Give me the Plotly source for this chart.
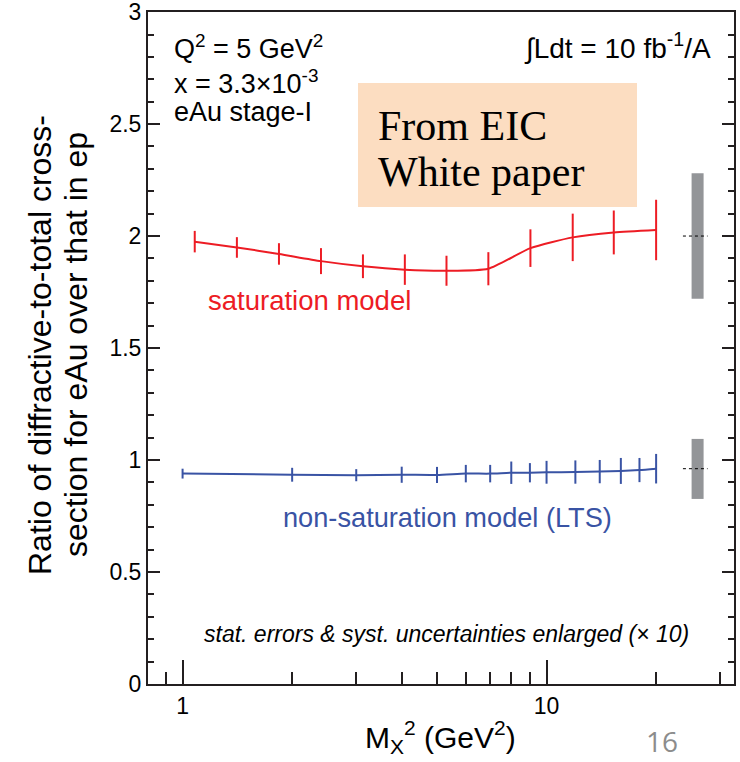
import plotly.graph_objects as go

# ---- data ----
sat_x = [1.08, 1.41, 1.84, 2.4, 3.13, 4.08, 5.31, 6.92, 9.03, 11.8, 15.3, 20.0]
sat_y = [1.975, 1.949, 1.920, 1.888, 1.865, 1.850, 1.845, 1.854, 1.946, 1.994, 2.016, 2.027]
sat_err = [0.048, 0.046, 0.048, 0.058, 0.053, 0.068, 0.067, 0.074, 0.084, 0.106, 0.098, 0.135]

lts_x = [1, 2, 3, 4, 5, 6, 7, 8, 9, 10, 12, 14, 16, 18, 20]
lts_y = [0.939, 0.934, 0.932, 0.934, 0.933, 0.939, 0.939, 0.943, 0.943, 0.945, 0.946, 0.948, 0.951, 0.955, 0.961]
lts_err = [0.022, 0.031, 0.027, 0.036, 0.036, 0.039, 0.039, 0.050, 0.043, 0.051, 0.052, 0.052, 0.058, 0.054, 0.066]

# systematic uncertainty bands (x position, low, high, central)
syst_x = 26.0
sat_syst = [1.72, 2.28, 2.0]
lts_syst = [0.826, 1.094, 0.961]
dot_x = [23.7, 27.7]

x_major = [1, 10]
x_major_text = ["1", "10"]
x_minor = [0.9, 2, 3, 4, 5, 6, 7, 8, 9, 20, 30]
y_major = [0, 0.5, 1, 1.5, 2, 2.5, 3]
y_major_text = ["0", "0.5", "1", "1.5", "2", "2.5", "3"]

RED = "#ED1C24"
BLUE = "#3953A4"
GRAY = "#939598"
AXC = "#231f20"
FONT = "Liberation Sans, Arial, sans-serif"
SERIF = "Liberation Serif, Times New Roman, serif"

W, H = 740, 762
ML, MR, MT, MB = 148, 6, 12, 78
PW, PH = W - ML - MR, H - MT - MB


def px(x):
    return (x - ML) / PW


def py(y):
    return (H - MB - y) / PH


fig = go.Figure()

# systematic bars
fig.add_trace(go.Scatter(x=[syst_x, syst_x], y=sat_syst[:2], mode="lines",
                         line=dict(color=GRAY, width=12), hoverinfo="skip", showlegend=False))
fig.add_trace(go.Scatter(x=[syst_x, syst_x], y=lts_syst[:2], mode="lines",
                         line=dict(color=GRAY, width=12), hoverinfo="skip", showlegend=False))
fig.add_trace(go.Scatter(x=dot_x, y=[sat_syst[2]] * 2, mode="lines",
                         line=dict(color="black", width=1, dash="dot"), showlegend=False))
fig.add_trace(go.Scatter(x=dot_x, y=[lts_syst[2]] * 2, mode="lines",
                         line=dict(color="black", width=1, dash="dot"), showlegend=False))

fig.add_trace(go.Scatter(
    x=sat_x, y=sat_y, mode="lines",
    line=dict(color=RED, width=2, shape="spline", smoothing=0.6),
    error_y=dict(type="data", array=sat_err, color=RED, thickness=2, width=0),
    showlegend=False))
fig.add_trace(go.Scatter(
    x=lts_x, y=lts_y, mode="lines",
    line=dict(color=BLUE, width=2, shape="spline", smoothing=0.6),
    error_y=dict(type="data", array=lts_err, color=BLUE, thickness=2, width=0),
    showlegend=False))

# invisible trace to carry the right-hand (mirrored) y axis ticks
fig.add_trace(go.Scatter(x=[1], y=[1], yaxis="y2", mode="markers",
                         marker=dict(opacity=0), hoverinfo="skip", showlegend=False))

# "From EIC White paper" box
fig.add_shape(type="rect", xref="paper", yref="paper",
              x0=px(358), x1=px(637), y0=py(207), y1=py(83),
              fillcolor="#FCDDC1", line=dict(width=0), layer="above")

ann = []


def add(text, x, y, xanchor="left", size=24, color="black", family=FONT, angle=0):
    ann.append(dict(text=text, x=px(x), y=py(y), xref="paper", yref="paper",
                    xanchor=xanchor, yanchor="middle", showarrow=False,
                    textangle=angle, font=dict(size=size, color=color, family=family)))


add("Q<sup>2</sup> = 5 GeV<sup>2</sup>", 172, 47, size=27)
add("x = 3.3×10<sup>-3</sup>", 172, 82, size=27)
add("eAu stage-I", 172, 112, size=27)
add("∫Ldt = 10 fb<sup>-1</sup>/A", 713, 46, xanchor="right", size=28)
add("From EIC", 376, 126, size=42, family=SERIF)
add("White paper", 376, 172, size=42, family=SERIF)
add("saturation model", 206, 300, size=27.5, color=RED)
add("non-saturation model (LTS)", 281, 517, size=27.2, color=BLUE)
add("<i>stat. errors &amp; syst. uncertainties enlarged (× 10)</i>", 446, 634,
    xanchor="center", size=23)
add("16", 662, 741, xanchor="center", size=28, color="#8C8C8C", family="Open Sans, Noto Sans, sans-serif")
add("M<sub>X</sub><sup>2</sup> (GeV<sup>2</sup>)", 440, 737, xanchor="center", size=30)
add("Ratio of diffractive-to-total cross-", 40, 345, xanchor="center", size=32, angle=-90)
add("section for eAu over that in ep", 76, 345, xanchor="center", size=32, angle=-90)

yaxis_common = dict(
    range=[-0.0005, 3.0005],
    tickmode="array", tickvals=y_major, ticktext=y_major_text,
    ticks="inside", ticklen=12, tickwidth=1.5, tickcolor=AXC,
    minor=dict(dtick=0.1, tick0=0, ticks="inside", ticklen=6, tickwidth=1.5, tickcolor=AXC),
    showgrid=False, zeroline=False, automargin=False,
)

fig.update_layout(
    width=W, height=H,
    margin=dict(l=ML, r=MR, t=MT, b=MB, autoexpand=False),
    paper_bgcolor="white", plot_bgcolor="white",
    annotations=ann,
    xaxis=dict(type="log", range=[-0.095, 1.515],
               tickmode="array", tickvals=x_major, ticktext=x_major_text,
               ticks="inside", ticklen=24, tickwidth=1.5, tickcolor=AXC,
               minor=dict(tickmode="array", tickvals=x_minor, ticks="inside",
                          ticklen=12, tickwidth=1.5, tickcolor=AXC),
               showline=True, linewidth=2, linecolor=AXC, mirror=True,
               showgrid=False, zeroline=False, automargin=False,
               tickfont=dict(size=23, family=FONT, color="black")),
    yaxis=dict(**yaxis_common, showline=True, linewidth=2, linecolor=AXC, mirror=True,
               ticklabeloverflow="allow",
               tickfont=dict(size=23, family=FONT, color="black")),
    yaxis2=dict(**yaxis_common, overlaying="y", side="right", matches="y",
                showticklabels=False, showline=False),
)

fig.write_html("out.html")
